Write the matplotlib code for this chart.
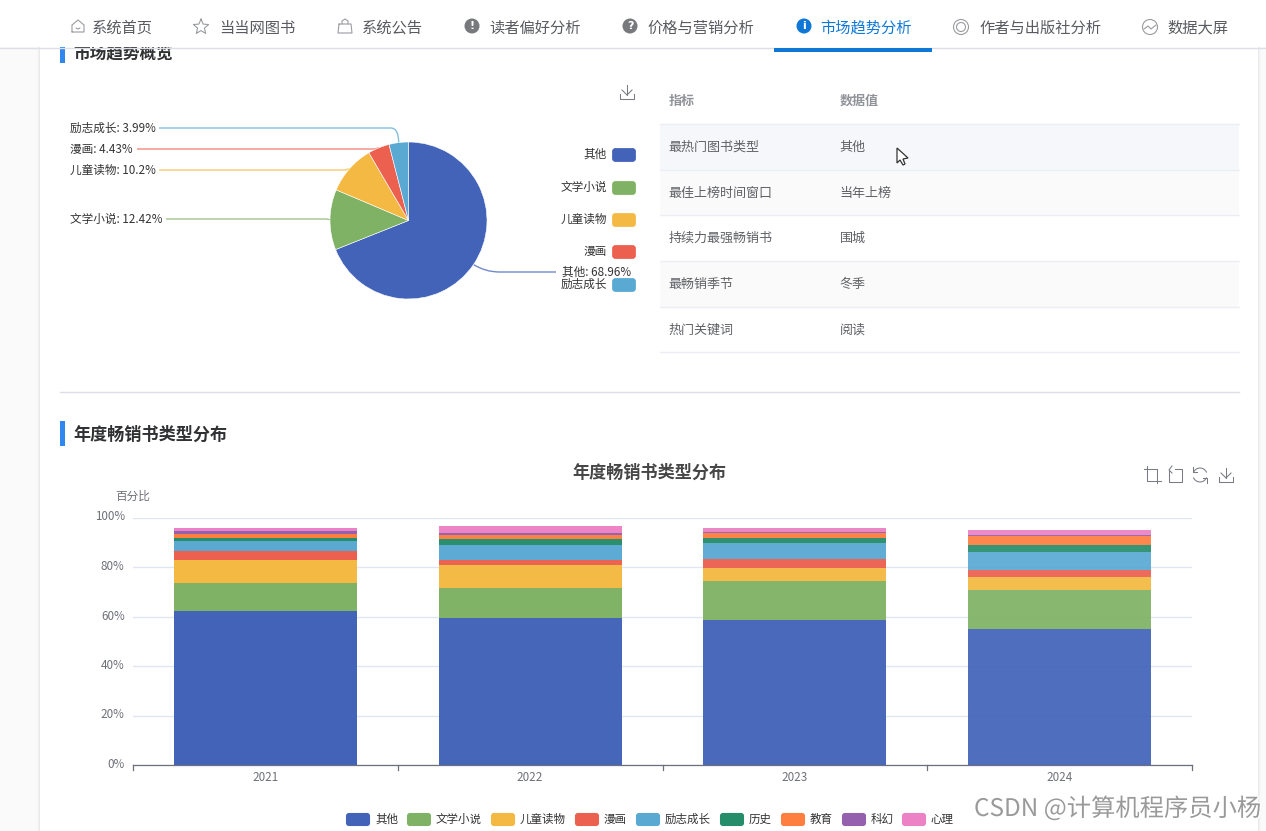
import matplotlib
matplotlib.use('Agg')
import matplotlib.pyplot as plt
import matplotlib.patheffects as pe
import matplotlib.transforms as mtrans
import numpy as np
from matplotlib.patches import Rectangle, FancyBboxPatch, Circle, PathPatch, Polygon, Arc
from matplotlib.path import Path
from matplotlib.ticker import FuncFormatter

plt.rcParams['font.family'] = ['Noto Sans CJK SC', 'DejaVu Sans']

W, H = 1266, 831

# 导航
nav_labels = ['系统首页', '当当网图书', '系统公告', '读者偏好分析', '价格与营销分析', '市场趋势分析', '作者与出版社分析', '数据大屏']

# 饼图
pie_names = ['其他', '文学小说', '儿童读物', '漫画', '励志成长']
pie_values = [68.96, 12.42, 10.2, 4.43, 3.99]

# 表格
table_header = ['指标', '数据值']
table_keys = ['最热门图书类型', '最佳上榜时间窗口', '持续力最强畅销书', '最畅销季节', '热门关键词']
table_vals = ['其他', '当年上榜', '围城', '冬季', '阅读']

# 堆叠柱状图，每年每类的百分比
years = ['2021', '2022', '2023', '2024']
genres = ['其他', '文学小说', '儿童读物', '漫画', '励志成长', '历史', '教育', '科幻', '心理']
share_other = [62.2, 59.3, 58.5, 55.1]
share_novel = [11.3, 12.3, 15.8, 15.8]
share_child = [9.3, 9.2, 5.4, 4.9]
share_comic = [3.8, 2.0, 3.7, 3.1]
share_growth = [3.9, 6.1, 6.2, 7.0]
share_history = [1.3, 2.3, 2.0, 3.1]
share_edu = [1.5, 1.6, 2.1, 3.7]
share_scifi = [1.4, 1.1, 0.4, 0.2]
share_psych = [1.2, 2.7, 1.5, 1.9]
y_ticks = [0, 20, 40, 60, 80, 100]

colors = ['#4263b8', '#7fb264', '#f4b942', '#ec6050', '#5aa9d3', '#268d6a', '#fd7e3f', '#9560ad', '#ec82c5']

TXT = '#606266'
fig = plt.figure(figsize=(W / 100, H / 100), dpi=100, facecolor='#fafafa')


def px_axes(x0, y0, x1, y1, **kw):
    return fig.add_axes([x0 / W, 1 - y1 / H, (x1 - x0) / W, (y1 - y0) / H], **kw)


# 整页用像素坐标的底层
page = px_axes(0, 0, W, H, zorder=0)
page.set_xlim(0, W)
page.set_ylim(H, 0)
page.axis('off')

for i, a in enumerate([0.012, 0.02, 0.03]):
    page.add_patch(Rectangle((37 + i, 0), 1224 - 2 * i, H, fc='black', alpha=a, lw=0))
page.add_patch(Rectangle((40, 0), 1218, H, fc='white', lw=0))

# 小节标题
page.add_patch(Rectangle((60, 44), 5, 19, fc='#2f88f0', lw=0))
page.text(73, 53, '市场趋势概览', fontsize=12, fontweight='bold', color='#303133', va='center')
page.add_patch(Rectangle((60, 421), 5, 25, fc='#2f88f0', lw=0))
page.text(73, 435, '年度畅销书类型分布', fontsize=12.3, fontweight='bold', color='#303133', va='center')
page.plot([60, 1239], [392, 392], color='#dcdfe6', lw=1)

# 导航条盖在标题上面
page.add_patch(Rectangle((0, 0), W, 47, fc='white', lw=0, zorder=5))
page.plot([0, W], [47.5, 47.5], color='#dcdfe6', lw=1, zorder=5)
page.add_patch(Rectangle((774, 48), 158, 3.5, fc='#0f78d7', lw=0, zorder=6))
nav_x = [91.5, 219, 361.5, 489.5, 647.5, 820.5, 979.5, 1167.5]
for x, t in zip(nav_x, nav_labels):
    c = '#0f78d7' if t == '市场趋势分析' else '#595b60'
    page.text(x, 28, t, fontsize=11, color=c, va='center', zorder=6)

IC = '#9a9c a0'.replace(' ', '')
kw = dict(color=IC, lw=0.8, zorder=6, solid_capstyle='round')
# 首页
page.plot([72, 72, 78, 84, 84, 72], [32, 25, 20, 25, 32, 32], **kw)
page.plot([76, 78, 80], [28, 29, 28], **kw)
# 星
ang = np.radians(90 + 36 * np.arange(11))
rad = np.where(np.arange(11) % 2 == 0, 8, 3.6)
page.plot(201 + rad * np.cos(ang), 27 - rad * np.sin(ang), **kw)
# 袋子
page.plot([339, 351, 352, 338, 339], [24, 24, 33, 33, 24], **kw)
page.plot([342, 342, 345, 348, 348], [24, 21, 19, 21, 24], **kw)
# 实心圆图标
for x, s, c in [(472, '!', '#77797d'), (630, '?', '#77797d'), (804, 'i', '#0f78d7')]:
    page.add_patch(Circle((x, 26), 7.5, fc=c, lw=0, zorder=6))
    page.text(x, 26, s, color='white', fontsize=8, fontweight='bold', ha='center', va='center', zorder=7,
              family='DejaVu Sans')
# 圆环
page.add_patch(Circle((961, 27), 7.5, fc='none', ec=IC, lw=0.8, zorder=6))
page.add_patch(Circle((961, 27), 4.5, fc='none', ec=IC, lw=0.8, zorder=6))
# 数据大屏
page.add_patch(Circle((1150, 27), 7.5, fc='none', ec=IC, lw=0.8, zorder=6))
page.plot([1144, 1148, 1151, 1156], [29, 26, 29, 25], **kw)

# 饼图
cx, cy, r = 408.5, 220.5, 78.5
ax_pie = px_axes(cx - r, cy - r, cx + r, cy + r, zorder=2)
ax_pie.pie(pie_values, colors=colors[:5], startangle=90, counterclock=False, radius=1,
           wedgeprops=dict(edgecolor='white', linewidth=0.4))
ax_pie.set_xlim(-1, 1)
ax_pie.set_ylim(-1, 1)

# 饼图标签和引导线
label_y = [272, 219, 170, 149, 128]
label_left = [562, 70, 70, 70, 70]
line_end = [556, 166, 159, 137, 159]
ends = np.cumsum(pie_values)
mids = 90 - (ends - np.array(pie_values) / 2) * 3.6
for i, name in enumerate(pie_names):
    px = cx + r * np.cos(np.radians(mids[i]))
    py = cy - r * np.sin(np.radians(mids[i]))
    ly = label_y[i]
    if i == 0:
        verts = [(px, py), (px + 12, ly), (px + 26, ly), (line_end[i], ly)]
        codes = [Path.MOVETO, Path.CURVE3, Path.CURVE3, Path.LINETO]
    elif i == 4:
        verts = [(line_end[i], ly), (px - 8, ly), (px, ly), (px, py)]
        codes = [Path.MOVETO, Path.LINETO, Path.CURVE3, Path.CURVE3]
    else:
        verts = [(line_end[i], ly), (px - 4, ly), (px, py)]
        codes = [Path.MOVETO, Path.LINETO, Path.LINETO]
    page.add_patch(PathPatch(Path(verts, codes), fc='none', ec=colors[i], lw=1, alpha=0.75))
    page.text(label_left[i], ly, f'{name}: {pie_values[i]:g}%', fontsize=8.4, color='#333333', va='center', zorder=3)

# 饼图图例
legend_y = [155, 188, 220, 252, 285]
for i, name in enumerate(pie_names):
    page.add_patch(FancyBboxPatch((613.5, legend_y[i] - 5.5), 21, 11, boxstyle='round,pad=0,rounding_size=2',
                                  mutation_aspect=1, fc=colors[i], ec=colors[i], lw=2))
    page.text(607, legend_y[i] - 0.5, name, fontsize=8.4, color='#333333', ha='right', va='center')


def download_icon(x, y):
    c = '#7a7c85'
    page.plot([x - 7, x - 7, x + 7, x + 7], [y + 2, y + 7, y + 7, y + 2], color=c, lw=0.75)
    page.plot([x, x], [y - 7, y + 3], color=c, lw=0.75)
    page.plot([x - 5, x, x + 5], [y - 2, y + 3, y - 2], color=c, lw=0.75)


download_icon(627, 92)
download_icon(1226, 475)
c = '#7a7c85'
page.plot([1144, 1157, 1157], [469, 469, 483], color=c, lw=0.75)
page.plot([1147, 1147, 1161], [466, 481, 481], color=c, lw=0.75)
page.plot([1169, 1169, 1182, 1182, 1175], [471, 482, 482, 469, 469], color=c, lw=0.75)
page.plot([1172, 1169, 1172], [466, 470, 473], color=c, lw=0.75)
page.add_patch(Arc((1200, 475), 14, 14, theta1=20, theta2=160, ec=c, lw=0.75))
page.add_patch(Arc((1200, 475), 14, 14, theta1=200, theta2=340, ec=c, lw=0.75))
page.plot([1193, 1193, 1197], [467, 472, 472], color=c, lw=0.75)
page.plot([1207, 1207, 1203], [483, 478, 478], color=c, lw=0.75)

# 表格
row_edges = [78, 124, 170, 215, 261, 307, 352]
page.add_patch(Rectangle((660, 124), 579, 46, fc='#f5f7fa', lw=0))
page.add_patch(Rectangle((660, 170), 579, 45, fc='#fafafa', lw=0))
page.add_patch(Rectangle((660, 261), 579, 46, fc='#fafafa', lw=0))
for ye in row_edges[1:]:
    page.plot([660, 1239], [ye, ye], color='#ebeef5', lw=1)
page.text(668.5, 101, table_header[0], fontsize=9.4, fontweight='bold', color='#909399', va='center')
page.text(839.5, 101, table_header[1], fontsize=9.4, fontweight='bold', color='#909399', va='center')
for i in range(len(table_keys)):
    ym = (row_edges[i + 1] + row_edges[i + 2]) / 2 + 0.5
    page.text(668.5, ym, table_keys[i], fontsize=9.4, color=TXT, va='center')
    page.text(839.5, ym, table_vals[i], fontsize=9.4, color=TXT, va='center')

# 鼠标
page.add_patch(Polygon([(897, 148), (897, 163), (900, 160), (903, 165), (905, 164), (903, 159), (908, 158)],
                       closed=True, fc='white', ec='#333333', lw=0.9, zorder=4))

# 堆叠柱状图
page.text(649.5, 473, '年度畅销书类型分布', fontsize=12.3, fontweight='bold', color='#464646', ha='center', va='center')
page.text(133, 496, '百分比', fontsize=8.4, color='#6e7079', ha='center', va='center')

ax = px_axes(133, 517.5, 1192, 765, zorder=2)
ax.patch.set_alpha(0)
series = [share_other, share_novel, share_child, share_comic, share_growth,
          share_history, share_edu, share_scifi, share_psych]
x = np.arange(len(years))
bottom = np.zeros(len(years))
fade = [1.0, 0.98, 0.96, 0.93]  # 原图右边的柱子略浅
for vals, col in zip(series, colors):
    bars = ax.bar(x, vals, width=0.692, bottom=bottom, color=col, linewidth=0, zorder=3)
    for b, al in zip(bars, fade):
        b.set_alpha(al)
    bottom = bottom + np.array(vals)
ax.set_xlim(-0.5, 3.5)
ax.set_ylim(0, 100)
ax.set_xticks(x)
ax.set_xticklabels(years, fontsize=8.4, color='#6e7079')
ax.tick_params(axis='x', length=0, pad=4)
for v in np.arange(5) - 0.5:
    ax.plot([v, v], [0, -2], color='#6e7079', lw=0.9, clip_on=False, zorder=4)
ax.set_yticks(y_ticks)
ax.yaxis.set_major_formatter(FuncFormatter(lambda v, _: f'{v:.0f}%'))
ax.tick_params(axis='y', length=0, pad=6, labelsize=8.4, labelcolor='#6e7079')
shift = mtrans.ScaledTranslation(0, 2 / 100, fig.dpi_scale_trans)
for lab in ax.get_yticklabels():
    lab.set_transform(lab.get_transform() + shift)
ax.grid(axis='y', color='#e0e6f1', lw=1, zorder=0)
ax.set_axisbelow(True)
for s in ['top', 'right', 'left']:
    ax.spines[s].set_visible(False)
ax.spines['bottom'].set_color('#6e7079')
ax.spines['bottom'].set_linewidth(0.9)

# 底部图例
swatch_x = [346, 407, 491, 575, 636, 720, 781, 842, 902]
for sx, name, col in zip(swatch_x, genres, colors):
    page.add_patch(FancyBboxPatch((sx + 1, 814), 22, 11, boxstyle='round,pad=0,rounding_size=2',
                                  fc=col, ec=col, lw=1.5))
    page.text(sx + 29, 819, name, fontsize=8.3, color='#333333', va='center')

# 水印
page.text(974, 809, 'CSDN @计算机程序员小杨', fontsize=17.5, color='#9a9a9a', va='center', zorder=8,
          path_effects=[pe.withStroke(linewidth=2, foreground='white')])

fig.savefig('out.png', dpi=100, facecolor=fig.get_facecolor())
